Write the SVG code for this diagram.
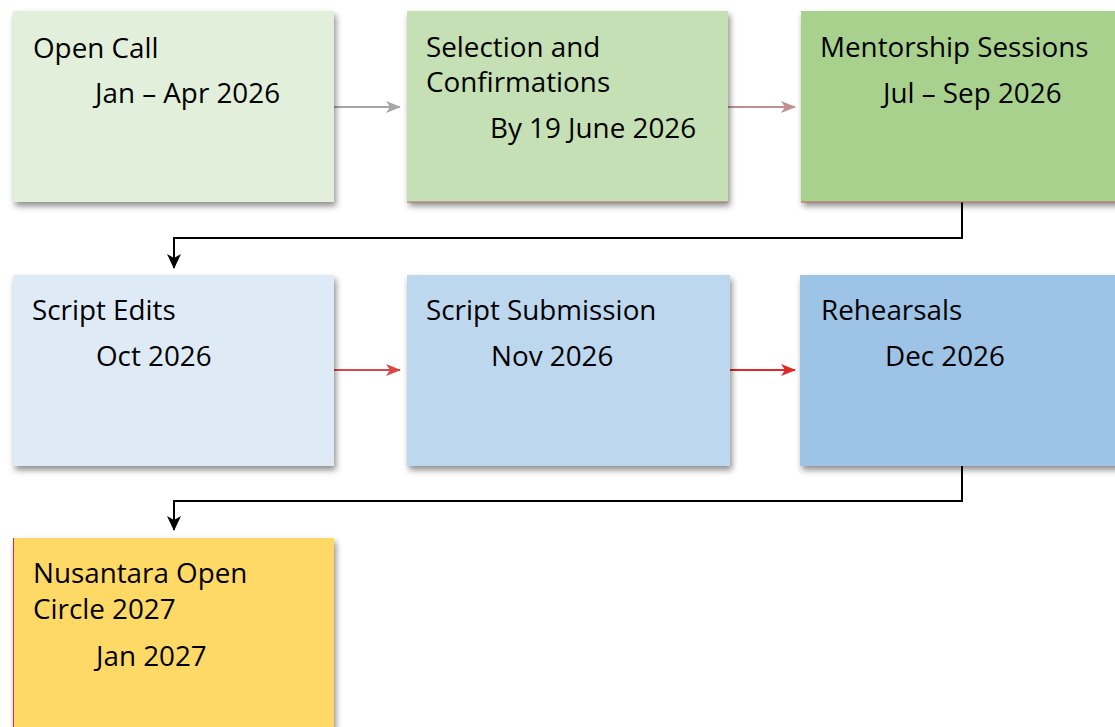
<svg xmlns="http://www.w3.org/2000/svg" width="1115" height="727" viewBox="0 0 1115 727">
<defs>
<style>
.t{font-family:"Open Sans",Lato,"Liberation Sans",sans-serif;font-size:27.8px;fill:#000}
.c{fill:none;stroke-width:2}
</style>
<filter id="sh" x="-10%" y="-10%" width="130%" height="130%">
<feDropShadow dx="2" dy="4" stdDeviation="3" flood-color="#000" flood-opacity="0.45"/>
</filter>
<marker id="ag" markerWidth="15" markerHeight="12" refX="14" refY="6" orient="auto" markerUnits="userSpaceOnUse"><path d="M0,0 L15,6 L0,12 L4,6 Z" fill="#a6a6a6"/></marker>
<marker id="ab" markerWidth="15" markerHeight="12" refX="14" refY="6" orient="auto" markerUnits="userSpaceOnUse"><path d="M0,0 L15,6 L0,12 L4,6 Z" fill="#c09090"/></marker>
<marker id="ar" markerWidth="15" markerHeight="12" refX="14" refY="6" orient="auto" markerUnits="userSpaceOnUse"><path d="M0,0 L15,6 L0,12 L4,6 Z" fill="#d84848"/></marker>
<marker id="ar2" markerWidth="15" markerHeight="12" refX="14" refY="6" orient="auto" markerUnits="userSpaceOnUse"><path d="M0,0 L15,6 L0,12 L4,6 Z" fill="#e02828"/></marker>
<marker id="ak" markerWidth="15" markerHeight="14" refX="14" refY="7" orient="auto" markerUnits="userSpaceOnUse"><path d="M0,0 L15,7 L0,14 L4,7 Z" fill="#000"/></marker>
</defs>
<g id="connectors">
<line class="c" x1="334" y1="107" x2="400" y2="107" stroke="#a6a6a6" marker-end="url(#ag)"/>
<line class="c" x1="728" y1="107" x2="795" y2="107" stroke="#c09090" marker-end="url(#ab)"/>
<polyline class="c" points="962,202 962,238 174,238 174,268" stroke="#000" marker-end="url(#ak)"/>
<line class="c" x1="334" y1="370" x2="400" y2="370" stroke="#d84848" marker-end="url(#ar)"/>
<line class="c" x1="730" y1="370" x2="795" y2="370" stroke="#e02828" marker-end="url(#ar2)"/>
<polyline class="c" points="962,466 962,501 174,501 174,530" stroke="#000" marker-end="url(#ak)"/>
</g>
<g id="n1"><rect x="13" y="11" width="321" height="191" fill="#e2efda" filter="url(#sh)"/>
<text class="t" x="33" y="58">Open Call</text><text class="t" x="95" y="103">Jan – Apr 2026</text></g>
<g id="n2"><rect x="407" y="11" width="321" height="191" fill="#c5e0b4" filter="url(#sh)"/>
<line x1="407" y1="202" x2="728" y2="202" stroke="#b07070" stroke-width="1"/>
<text class="t" x="426" y="57"><tspan x="426" y="57">Selection and</tspan><tspan x="426" y="92">Confirmations</tspan></text><text class="t" x="490" y="138">By 19 June 2026</text></g>
<g id="n3"><rect x="801" y="11" width="320" height="191" fill="#a9d18e" filter="url(#sh)"/>
<line x1="801" y1="202" x2="1115" y2="202" stroke="#c06060" stroke-width="1"/>
<text class="t" x="820" y="57">Mentorship Sessions</text><text class="t" x="883" y="103">Jul – Sep 2026</text></g>
<g id="n4"><rect x="13" y="275" width="321" height="191" fill="#deebf7" filter="url(#sh)"/>
<text class="t" x="32" y="320">Script Edits</text><text class="t" x="96" y="366">Oct 2026</text></g>
<g id="n5"><rect x="407" y="275" width="323" height="191" fill="#bdd7ee" filter="url(#sh)"/>
<text class="t" x="426" y="320">Script Submission</text><text class="t" x="491" y="366">Nov 2026</text></g>
<g id="n6"><rect x="800" y="275" width="321" height="191" fill="#9dc3e6" filter="url(#sh)"/>
<text class="t" x="821" y="320">Rehearsals</text><text class="t" x="885" y="366">Dec 2026</text></g>
<g id="n7"><rect x="13" y="538" width="321" height="200" fill="#ffd966" filter="url(#sh)"/>
<line x1="13.5" y1="538" x2="13.5" y2="727" stroke="#d03030" stroke-width="1"/>
<text class="t" x="33" y="583"><tspan x="33" y="583">Nusantara Open</tspan><tspan x="33" y="619">Circle 2027</tspan></text><text class="t" x="96" y="666">Jan 2027</text></g>
</svg>
